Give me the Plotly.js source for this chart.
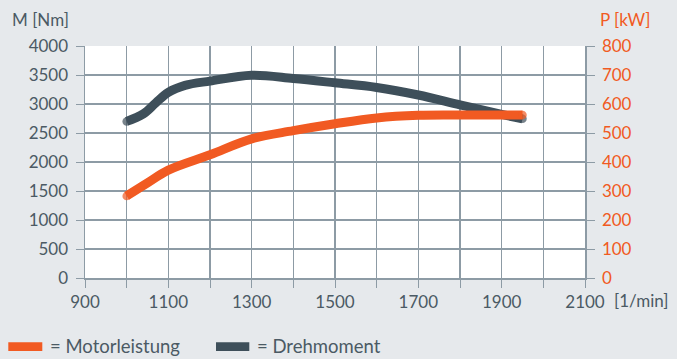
<!DOCTYPE html>
<html><head><meta charset="utf-8">
<script src="https://cdn.plot.ly/plotly-3.0.1.min.js"></script>
<style>html,body{margin:0;padding:0;background:#e6e9ec;}#chart{width:677px;height:359px;}</style>
</head><body><div id="chart"></div>
<script>
var rpmTorque = [1000, 1040, 1070, 1100, 1140, 1200, 1300, 1400, 1500, 1600, 1700, 1800, 1900, 1950];
var torqueNm = [2700, 2830, 3020, 3200, 3320, 3395, 3495, 3440, 3365, 3285, 3155, 2985, 2820, 2745];
var rpmPower = [1000, 1050, 1100, 1200, 1300, 1400, 1500, 1600, 1700, 1800, 1900, 1950];
var powerKw = [283, 328, 372, 425, 480, 508, 532, 552, 561, 562, 562, 562];
var xTickVals = [900, 1100, 1300, 1500, 1700, 1900, 2100];
var xTickText = ['900', '1100', '1300', '1500', '1700', '1900', '2100'];
var seriesNames = ['= Motorleistung', '= Drehmoment'];

var gridC = '#8d9ba5';
var txtC = '#4b5a64';
var orange = '#f15a22';
var dark = '#3e4f5a';
var fnt = 'Lato, "Noto Sans", sans-serif';

function endSizes(n, s){ var a=[]; for(var i=0;i<n;i++){a.push(i===0||i===n-1?s:0);} return a; }

var traces = [
 {x: rpmTorque, y: torqueNm, type:'scatter', mode:'lines+markers', name:seriesNames[1],
  line:{color:dark, width:9, shape:'spline', smoothing:1},
  marker:{color:dark, size:endSizes(rpmTorque.length, 8.5), line:{width:0}},
  xaxis:'x', yaxis:'y'},
 {x: rpmPower, y: powerKw, type:'scatter', mode:'lines+markers', name:seriesNames[0],
  line:{color:orange, width:9, shape:'spline', smoothing:1},
  marker:{color:orange, size:endSizes(rpmPower.length, 8.5), line:{width:0}},
  xaxis:'x', yaxis:'y2'}
];

var layout = {
 width:677, height:359,
 paper_bgcolor:'#e6e9ec', plot_bgcolor:'#ffffff',
 margin:{l:85, r:92, t:46, b:81, pad:0},
 font:{family:fnt, size:17, color:txtC},
 showlegend:false,
 xaxis:{range:[900,2100], tickvals:xTickVals, ticktext:xTickText, ticks:'outside', ticklen:8, tickcolor:gridC,
   showgrid:true, gridcolor:gridC, gridwidth:1.5, showline:true, linecolor:gridC, linewidth:1.5, zeroline:false,
   minor:{dtick:100, tick0:900, ticks:'outside', ticklen:8, tickcolor:gridC, showgrid:true, gridcolor:gridC, gridwidth:1.5},
   tickfont:{size:17, color:txtC}, fixedrange:true},
 yaxis:{range:[0,4000], dtick:500, ticks:'outside', ticklen:8, tickcolor:gridC, showgrid:true, gridcolor:gridC, gridwidth:1.5,
   showline:true, linecolor:gridC, linewidth:1.5, zeroline:false, tickfont:{size:17, color:txtC}, ticklabelstandoff:4},
 yaxis2:{range:[0,800], dtick:100, overlaying:'y', side:'right', ticks:'outside', ticklen:8, tickcolor:gridC,
   showgrid:false, showline:true, linecolor:gridC, linewidth:1.5, zeroline:false, tickfont:{size:17, color:orange}, ticklabelstandoff:4},
 shapes:[
  {type:'rect', xref:'paper', yref:'paper', x0:-0.1534, x1:-0.0854, y0:-0.3147, y1:-0.2772, fillcolor:orange, line:{width:0}},
  {type:'rect', xref:'paper', yref:'paper', x0:0.262, x1:0.3286, y0:-0.3147, y1:-0.2772, fillcolor:dark, line:{width:0}}
 ],
 annotations:[
  {xref:'paper', yref:'paper', x:0, y:1, xshift:-75, yshift:27, xanchor:'left', yanchor:'middle', text:'M [Nm]', showarrow:false, font:{size:17, color:txtC}},
  {xref:'paper', yref:'paper', x:1, y:1, xshift:13, yshift:27, xanchor:'left', yanchor:'middle', text:'P [kW]', showarrow:false, font:{size:17, color:orange}},
  {xref:'paper', yref:'paper', x:1, y:0, xshift:27, yshift:-22, xanchor:'left', yanchor:'middle', text:'[1/min]', showarrow:false, font:{size:17, color:txtC}},
  {xref:'paper', yref:'paper', x:-0.0734, y:-0.293, xanchor:'left', yanchor:'middle', text:seriesNames[0], showarrow:false, font:{size:18.5, color:txtC}},
  {xref:'paper', yref:'paper', x:0.34, y:-0.293, xanchor:'left', yanchor:'middle', text:seriesNames[1], showarrow:false, font:{size:18.5, color:txtC}}
 ]
};
Plotly.newPlot('chart', traces, layout, {displayModeBar:false, staticPlot:true});
</script></body></html>
